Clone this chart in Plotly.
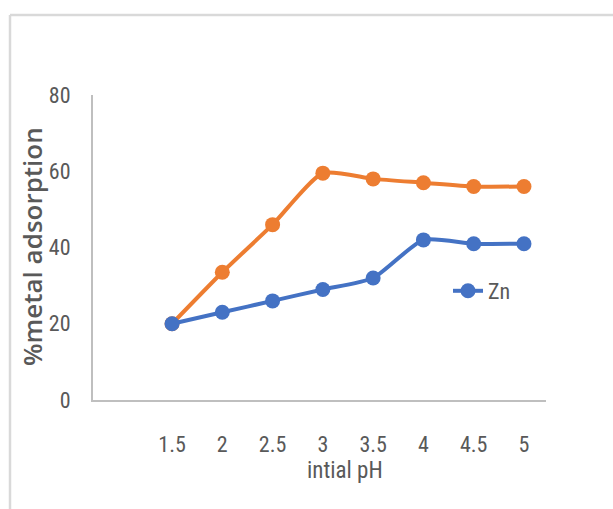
import plotly.graph_objects as go

# Initial pH values and % metal adsorption for the two series
ph = [1.5, 2, 2.5, 3, 3.5, 4, 4.5, 5]
series_orange = [20, 33.5, 46, 59.5, 58, 57, 56, 56]
zn = [20, 23, 26, 29, 32, 42, 41, 41]
y_ticks = [0, 20, 40, 60, 80]

ORANGE = "#ED7D31"
BLUE = "#4472C4"
NARROW = "Liberation Sans Narrow, Roboto Condensed, Arial Narrow, sans-serif"
TICK_FONT = dict(family=NARROW, size=22, color="#595959")

fig = go.Figure()
fig.add_trace(go.Scatter(
    x=ph, y=series_orange, mode="lines+markers", showlegend=False,
    line=dict(color=ORANGE, width=4, shape="spline", smoothing=0.6),
    marker=dict(color=ORANGE, size=15),
))
fig.add_trace(go.Scatter(
    x=ph, y=zn, mode="lines+markers", name="Zn",
    line=dict(color=BLUE, width=4, shape="spline", smoothing=0.6),
    marker=dict(color=BLUE, size=15),
))

# plot area spans px 93..546 horizontally and 95..400 vertically
L, R, T, B = 93, 546, 95, 400
W, H = 613, 509
pw, ph_px = R - L, B - T


def px_x(p):
    return (p - L) / pw


def px_y(p):
    return (B - p) / ph_px


fig.update_layout(
    width=W, height=H,
    margin=dict(l=L, r=W - R, t=T, b=H - B, pad=0),
    paper_bgcolor="white", plot_bgcolor="white",
    xaxis=dict(
        range=[0.714, 5.219], tickvals=ph, ticktext=[str(v) for v in ph],
        showgrid=False, zeroline=False, showline=True,
        linecolor="#bfbfbf", linewidth=2, ticks="",
        tickfont=TICK_FONT, ticklabelstandoff=24,
    ),
    yaxis=dict(
        range=[0, 80], tickvals=y_ticks,
        showgrid=False, zeroline=False, showline=True,
        linecolor="#bfbfbf", linewidth=2, ticks="",
        tickfont=TICK_FONT, ticklabelstandoff=16,
    ),
    legend=dict(
        x=px_x(448), y=px_y(291), xanchor="left", yanchor="middle",
        bgcolor="rgba(0,0,0,0)", itemwidth=30,
        font=dict(family=NARROW, size=22, color="#595959"),
    ),
    shapes=[
        # outer frame lines on the left and top
        dict(type="line", xref="paper", yref="paper",
             x0=px_x(10), x1=px_x(10), y0=px_y(15), y1=px_y(H + 5),
             line=dict(color="#d9d9d9", width=2.5)),
        dict(type="line", xref="paper", yref="paper",
             x0=px_x(10), x1=px_x(W + 5), y0=px_y(15), y1=px_y(15),
             line=dict(color="#d9d9d9", width=2.5)),
    ],
    annotations=[
        dict(text="intial pH", xref="paper", yref="paper",
             x=px_x(345), y=px_y(470), showarrow=False,
             xanchor="center", yanchor="middle",
             font=dict(family=NARROW, size=23, color="#595959")),
        dict(text="%metal adsorption", xref="paper", yref="paper",
             x=px_x(32), y=px_y(247), showarrow=False, textangle=-90,
             xanchor="center", yanchor="middle",
             font=dict(family="Open Sans, sans-serif", size=26, weight=600,
                       color="#595959")),
    ],
)

fig.write_html("out.html")
